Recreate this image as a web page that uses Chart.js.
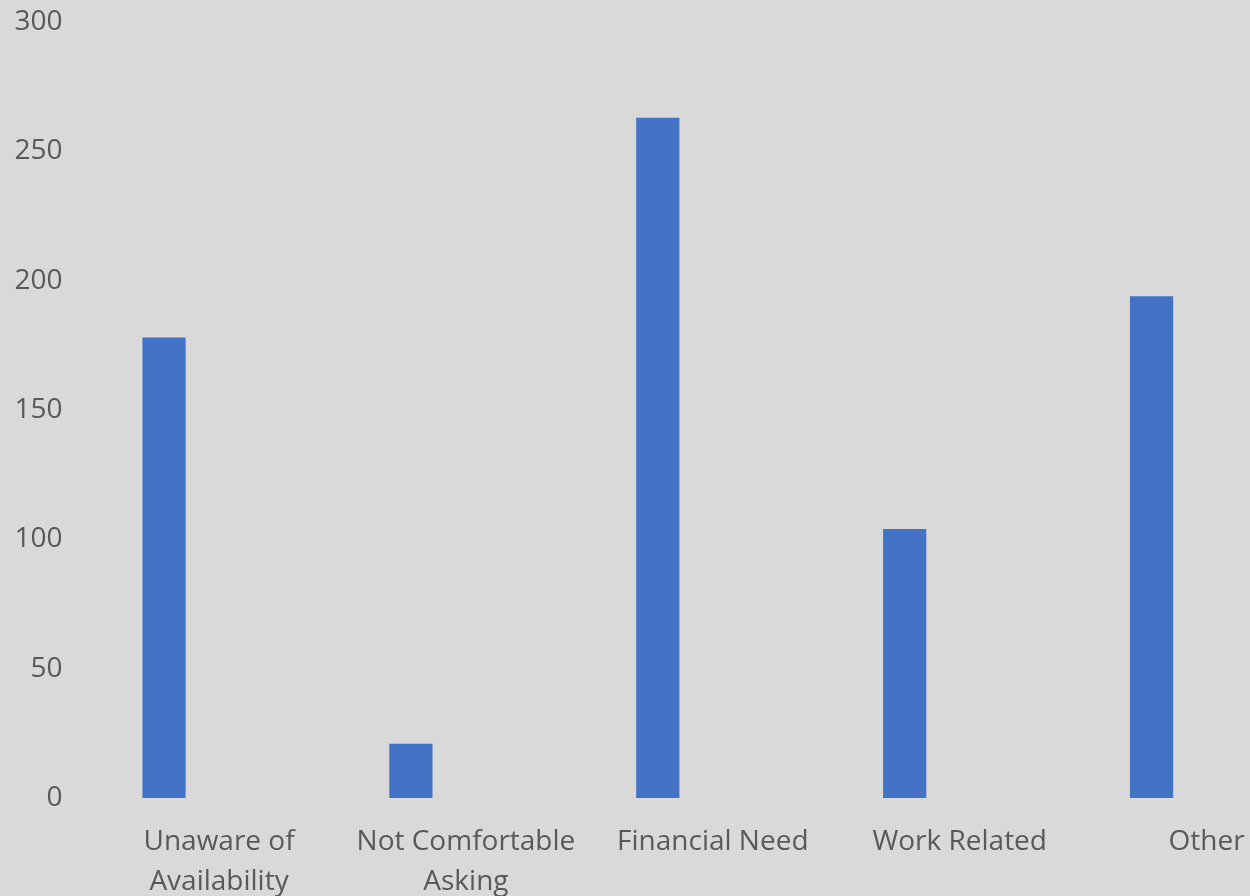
<!DOCTYPE html>
<html>
<head>
<meta charset="utf-8">
<script src="https://cdn.jsdelivr.net/npm/chart.js@4"></script>
<style>
  html, body { margin: 0; padding: 0; background: #D9D9D9; overflow: hidden; }
  #caixa { width: 1275px; height: 896px; }
</style>
</head>
<body>
<div id="caixa"><canvas id="graficoMotivos"></canvas></div>
<script>
const categorias = [['Unaware of', 'Availability'], ['Not Comfortable', 'Asking'], 'Financial Need', 'Work Related', 'Other'];
const valores = [178, 21, 263, 104, 194];
const ticksY = [0, 50, 100, 150, 200, 250, 300];

const corTexto = '#595959';
const fonte = { family: "'Open Sans', sans-serif", size: 28 };

document.addEventListener('DOMContentLoaded', () => {
  const ctx = document.getElementById('graficoMotivos');

  new Chart(ctx, {
    type: 'bar',
    data: {
      labels: categorias,
      datasets: [{
        data: valores,
        backgroundColor: '#4472C4',
        borderWidth: 0,
        barPercentage: 1,
        categoryPercentage: 0.175
      }]
    },
    options: {
      responsive: true,
      maintainAspectRatio: false,
      animation: false,
      layout: { padding: { top: 22, left: 0, right: 0, bottom: 0 } },
      plugins: {
        legend: { display: false },
        tooltip: { enabled: false }
      },
      scales: {
        y: {
          min: 0,
          max: 300,
          afterBuildTicks: escala => {
            escala.ticks = ticksY.map(v => ({ value: v }));
          },
          afterFit: escala => { escala.width = 40.6; },
          ticks: {
            color: corTexto,
            font: fonte,
            mirror: true,
            crossAlign: 'far',
            padding: -26
          },
          grid: { display: false, drawTicks: false },
          border: { display: false }
        },
        x: {
          afterFit: escala => { escala.height = 98; },
          ticks: {
            color: corTexto,
            font: { ...fonte, lineHeight: 1.43 },
            maxRotation: 0,
            autoSkip: false,
            padding: 24,
            labelOffset: 55
          },
          grid: { display: false, drawTicks: false },
          border: { display: false }
        }
      }
    }
  });
});
</script>
</body>
</html>
